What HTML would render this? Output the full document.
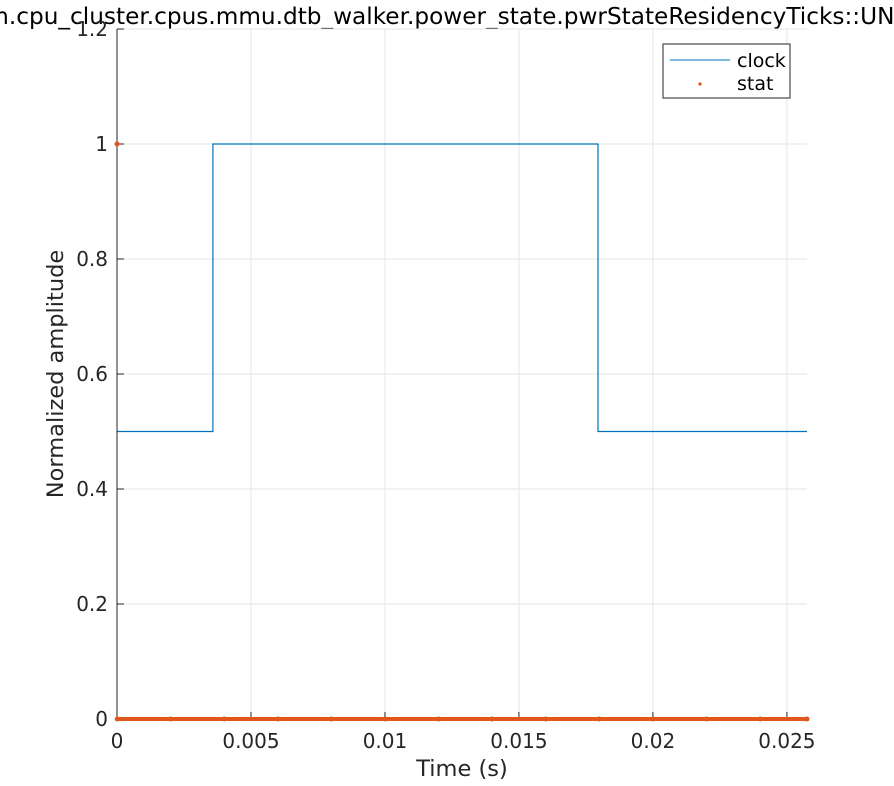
<!DOCTYPE html>
<html><head><meta charset="utf-8"><style>
body{margin:0;background:#fff;font-family:"Liberation Sans","DejaVu Sans",sans-serif;overflow:hidden;}
svg text{font-family:"DejaVu Sans","Liberation Sans",sans-serif;}
</style></head><body>
<svg id="chart" width="894" height="781" xmlns="http://www.w3.org/2000/svg">
<rect width="894" height="781" fill="#fff"/>
<text x="461" y="24" font-size="23.2" text-anchor="middle" fill="#000">system.cpu_cluster.cpus.mmu.dtb_walker.power_state.pwrStateResidencyTicks::UNDEFINED</text>
<rect x="117" y="29" width="690" height="690" fill="#fff"/>
<g id="grid"></g><g id="series"></g><g id="axes"></g>
<text x="462" y="776" font-size="22.5" text-anchor="middle" fill="#262626">Time (s)</text>
<text transform="translate(63,374) rotate(-90)" font-size="22.5" text-anchor="middle" fill="#262626">Normalized amplitude</text>
<g>
<rect x="663" y="44" width="127" height="54" fill="#fff" stroke="#262626" stroke-width="1"/>
<line x1="670" y1="60" x2="730" y2="60" stroke="#0072bd" stroke-width="1"/>
<text x="737" y="67" font-size="19" fill="#000">clock</text>
<circle cx="700" cy="84" r="1.6" fill="#d95319"/>
<text x="737" y="90" font-size="19" fill="#000">stat</text>
</g>
</svg>
<script>
const xTicks=[0,0.005,0.01,0.015,0.02,0.025];
const xTickLabels=["0","0.005","0.01","0.015","0.02","0.025"];
const yTicks=[0,0.2,0.4,0.6,0.8,1,1.2];
const yTickLabels=["0","0.2","0.4","0.6","0.8","1","1.2"];
const clockT=[0,0.00358,0.00358,0.01795,0.01795,0.02575];
const clockV=[0.5,0.5,1,1,0.5,0.5];
const statT=[0,0.00001,0.002,0.004,0.006,0.008,0.01,0.012,0.014,0.016,0.018,0.02,0.022,0.024,0.02575];
const statV=[1,0,0,0,0,0,0,0,0,0,0,0,0,0,0];
const X0=117,X1=807,Y0=719,Y1=29,XMAX=0.02575,YMAX=1.2;
const sx=v=>X0+v/XMAX*(X1-X0), sy=v=>Y0-v/YMAX*(Y0-Y1);
const NS="http://www.w3.org/2000/svg";
function mk(tag,attrs,parent){const e=document.createElementNS(NS,tag);for(const k in attrs)e.setAttribute(k,attrs[k]);parent.appendChild(e);return e;}
const grid=document.getElementById('grid'),axes=document.getElementById('axes'),ser=document.getElementById('series');
xTicks.forEach((t,i)=>{
 const g=mk('line',{x1:sx(t),x2:sx(t),y1:Y1,y2:Y0,stroke:'#e6e6e6','stroke-width':1},grid);
 
 
 const tk=mk('line',{x1:sx(t),x2:sx(t),y1:Y0,y2:Y0-7,stroke:'#262626','stroke-width':1},axes);
 
 
 const lb=mk('text',{x:sx(t),y:748,'font-size':20,'text-anchor':'middle',fill:'#262626'},axes);
 lb.textContent=xTickLabels[i];
 
 
});
yTicks.forEach((t,i)=>{
 const g=mk('line',{x1:X0,x2:X1,y1:sy(t),y2:sy(t),stroke:'#e6e6e6','stroke-width':1},grid);
 
 
 const tk=mk('line',{x1:X0,x2:X0+7,y1:sy(t),y2:sy(t),stroke:'#262626','stroke-width':1},axes);
 
 
 const lb=mk('text',{x:108,y:sy(t)+7,'font-size':20,'text-anchor':'end',fill:'#262626'},axes);
 lb.textContent=yTickLabels[i];
 
 
});
const ax=mk('path',{d:`M${X0},${Y1}V${Y0}H${X1}`,fill:'none',stroke:'#262626','stroke-width':1},axes);


const cl=mk('polyline',{points:clockT.map((t,i)=>sx(t)+','+sy(clockV[i])).join(' '),fill:'none',stroke:'#0072bd','stroke-width':1.2},ser);


const zeroIdx=statV.map((v,i)=>i).filter(i=>statV[i]===0);
const sl=mk('polyline',{points:zeroIdx.map(i=>sx(statT[i])+','+sy(statV[i])).join(' '),fill:'none',stroke:'#e0561b','stroke-width':4},axes);


statT.forEach((t,i)=>{
 const c=mk('circle',{cx:sx(t),cy:sy(statV[i]),r:2.5,fill:'#e0561b'},axes);
 
 
});
</script>
</body></html>
